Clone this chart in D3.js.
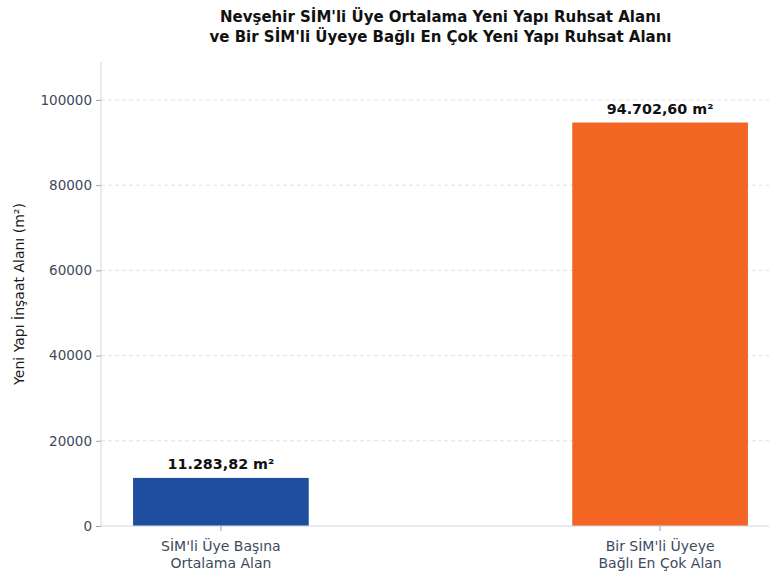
<!DOCTYPE html>
<html>
<head>
<meta charset="utf-8">
<script src="https://cdn.jsdelivr.net/npm/d3@7"></script>
<style>
  html, body { margin: 0; padding: 0; background: #fff; }
  svg { display: block; font-family: 'DejaVu Sans', sans-serif; }
</style>
</head>
<body>
<div id="chart"></div>
<script>
const categories = [
  ['SİM\'li Üye Başına', 'Ortalama Alan'],
  ['Bir SİM\'li Üyeye', 'Bağlı En Çok Alan']
];
const values = [11283.82, 94702.60];
const valueLabels = ['11.283,82 m²', '94.702,60 m²'];
const barColors = ['#1f4ea1', '#f26522'];
const yTicks = [0, 20000, 40000, 60000, 80000, 100000];
const titleLines = [
  'Nevşehir SİM\'li Üye Ortalama Yeni Yapı Ruhsat Alanı',
  've Bir SİM\'li Üyeye Bağlı En Çok Yeni Yapı Ruhsat Alanı'
];
const yLabel = 'Yeni Yapı İnşaat Alanı (m²)';

const width = 769, height = 573;
const margin = { top: 62, left: 101, bottom: 47 };
const plotRight = 780;

const svg = d3.select('#chart').append('svg')
  .attr('width', width)
  .attr('height', height);

const xScale = d3.scaleLinear()
  .domain([-0.273, 1.273])
  .range([margin.left, plotRight]);

const yScale = d3.scaleLinear()
  .domain([0, d3.max(values) * 1.15])
  .range([height - margin.bottom, margin.top]);

const barW = 0.4;
const y0 = yScale(0);

// grid
svg.append('g')
  .selectAll('line')
  .data(yTicks.filter(t => t > 0))
  .join('line')
  .attr('x1', margin.left)
  .attr('x2', plotRight)
  .attr('y1', d => yScale(d))
  .attr('y2', d => yScale(d))
  .style('stroke', '#dde1e6')
  .style('stroke-width', 1)
  .style('stroke-dasharray', '4,3');

// bars
svg.append('g')
  .selectAll('rect')
  .data(values)
  .join('rect')
  .attr('x', (d, i) => xScale(i - barW / 2))
  .attr('width', (d, i) => xScale(i + barW / 2) - xScale(i - barW / 2))
  .attr('y', d => yScale(d))
  .attr('height', d => y0 - yScale(d))
  .style('fill', (d, i) => barColors[i]);

// value labels
svg.append('g')
  .selectAll('text')
  .data(values)
  .join('text')
  .attr('x', (d, i) => xScale(i))
  .attr('y', d => yScale(d) - 9)
  .attr('text-anchor', 'middle')
  .style('font-size', '14.3px')
  .style('font-weight', 'bold')
  .style('fill', '#111')
  .text((d, i) => valueLabels[i]);

// y axis
const yAxis = svg.append('g')
  .attr('transform', `translate(${margin.left},0)`)
  .call(d3.axisLeft(yScale).tickValues(yTicks).tickFormat(d3.format('d')).tickSize(5).tickPadding(4));
yAxis.select('.domain').attr('d', `M0,${y0}V${margin.top}`).style('stroke', '#cfd8e3');
yAxis.selectAll('.tick line').style('stroke', '#9aa5b4');
yAxis.selectAll('.tick text')
  .style('font-size', '13.5px')
  .style('fill', '#3d4a5c')
  .style('font-family', "'DejaVu Sans', sans-serif");

// x axis
const xAxis = svg.append('g')
  .attr('transform', `translate(0,${y0})`);
xAxis.append('line')
  .attr('x1', margin.left)
  .attr('x2', plotRight)
  .style('stroke', '#cfd8e3');
const xt = xAxis.selectAll('g.xtick')
  .data(categories)
  .join('g')
  .attr('class', 'xtick')
  .attr('transform', (d, i) => `translate(${xScale(i)},0)`);
xt.append('line').attr('y2', 5).style('stroke', '#9aa5b4');
xt.append('text')
  .attr('text-anchor', 'middle')
  .style('font-size', '14px')
  .style('fill', '#3d4a5c')
  .selectAll('tspan')
  .data(d => d)
  .join('tspan')
  .attr('x', 0)
  .attr('y', (d, i) => 25 + i * 17)
  .text(d => d);

// y label
svg.append('text')
  .attr('transform', `translate(24,${(margin.top + y0) / 2}) rotate(-90)`)
  .attr('text-anchor', 'middle')
  .style('font-size', '14px')
  .style('fill', '#1a1a1a')
  .text(yLabel);

// title
svg.append('g')
  .selectAll('text')
  .data(titleLines)
  .join('text')
  .attr('x', (margin.left + plotRight) / 2)
  .attr('y', (d, i) => 22 + i * 20)
  .attr('text-anchor', 'middle')
  .style('font-size', '15px')
  .style('font-weight', 'bold')
  .style('fill', '#111')
  .text(d => d);
</script>
</body>
</html>
